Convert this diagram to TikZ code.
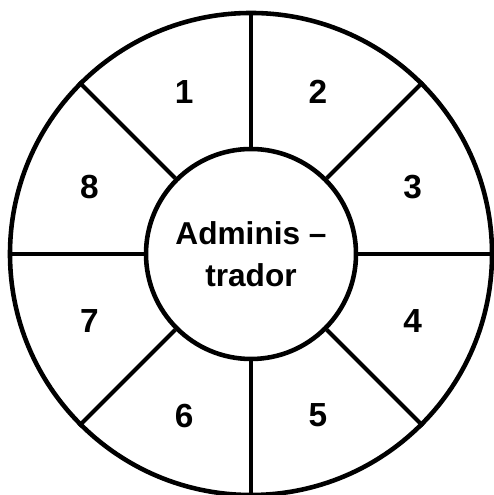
\documentclass[tikz,border=0pt]{standalone}
\usepackage{fontspec}
\setmainfont{Liberation Sans}
\usetikzlibrary{positioning}

\begin{document}
\begin{tikzpicture}[every node/.style={transform shape},
        ring/.style={circle,draw,line width=1.3pt,inner sep=0pt},
        hub/.style={circle,draw,line width=1.3pt,inner sep=0pt,minimum size=2.1cm,
          align=center,font=\bfseries\fontsize{9}{12}\selectfont},
        num/.style={font=\bfseries\fontsize{9.5}{10}\selectfont},
        spoke/.style={line width=1.15pt}]
        \useasboundingbox (-2.51,-2.41) rectangle (2.42,2.54);
        \node[ring,minimum size=4.82cm] (outer) at (0,0) {};
        \node[hub] (admin) at (0,0) {Adminis --\\trador};
        \foreach \a in {0,45,...,315}
          \draw[spoke] (admin.\a) -- (outer.\a);
        \foreach \n/\a in {1/112.5,2/67.5,3/22.5,4/-22.5,5/-67.5,6/-112.5,7/-157.5,8/157.5}
          \node[num] (sec\n) at (\a:1.75) {\n};
      \end{tikzpicture}
\end{document}
